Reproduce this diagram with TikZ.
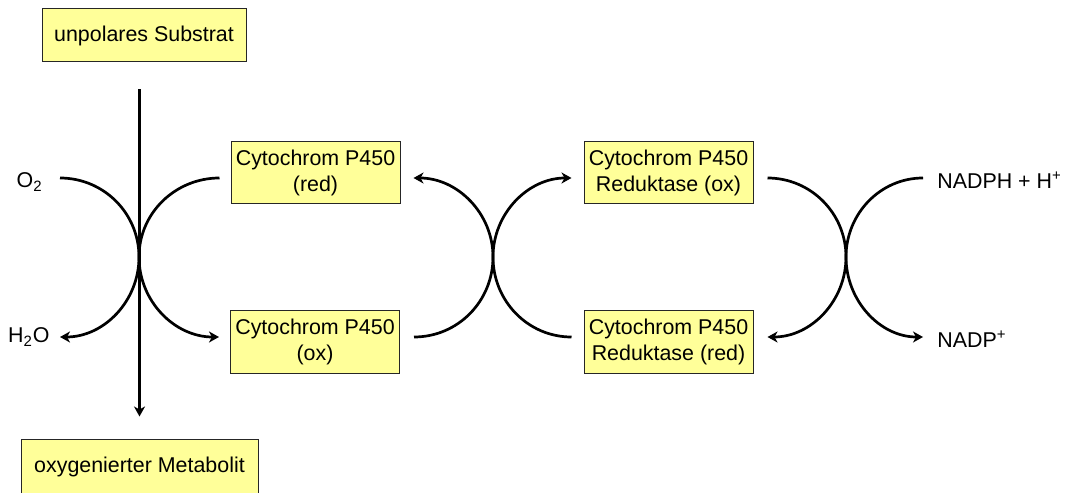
\documentclass[tikz,border=0pt]{standalone}
\usepackage{fontspec}
\setmainfont{Liberation Sans}
\usetikzlibrary{arrows.meta,positioning}
\definecolor{boxyellow}{HTML}{FFFF99}
\tikzstyle{every node}=[font=\fontsize{10.7}{13}\selectfont]
\tikzstyle{enzyme}=[draw=black!85,fill=boxyellow,line width=0.5pt,align=center,inner sep=0pt,minimum width=84.5pt,minimum height=31pt]
\tikzstyle{stoff}=[draw=black!85,fill=boxyellow,line width=0.5pt,inner sep=0pt,minimum height=26.5pt]
\tikzstyle{stofflabel}=[inner sep=0pt]
\tikzstyle{reac}=[line width=1.35pt,-{Stealth[length=5pt,width=5.5pt,inset=1.5pt]}]

\begin{document}
\begin{tikzpicture}[x=0.5pt,y=0.5pt]
  \useasboundingbox (0,0) rectangle (1068,492);
  \node[stoff,minimum width=102pt] (sub) at (144,456.5) {unpolares Substrat};
  \node[stoff,minimum width=118.5pt,minimum height=28pt] (met) at (139.5,25) {oxygenierter Metabolit};
  \node[enzyme] (cytred) at (315.5,319) {Cytochrom P450\\(red)};
  \node[enzyme] (cytox) at (315,150) {Cytochrom P450\\(ox)};
  \node[enzyme] (redox) at (668.5,319) {Cytochrom P450\\Reduktase (ox)};
  \node[enzyme] (redred) at (668.5,150) {Cytochrom P450\\Reduktase (red)};
  \coordinate (hubA) at (139,235);
  \coordinate (hubB) at (493,235);
  \coordinate (hubC) at (846,235);
  \coordinate (o2in) at (60,314);
  \coordinate (h2oout) at (60,155);
  \coordinate (nadphin) at (923,314);
  \coordinate (nadpout) at (923,155);
  \node[stofflabel,left=8.5pt of o2in,yshift=-2pt] (o2) {O\textsubscript{2}};
  \node[stofflabel,left=5pt of h2oout] (h2o) {H\textsubscript{2}O};
  \node[stofflabel,right=7pt of nadphin,yshift=-1pt] (nadph) {NADPH + H\textsuperscript{+}};
  \node[stofflabel,right=7pt of nadpout,yshift=-1pt] (nadp) {NADP\textsuperscript{+}};
  \draw[reac,shorten <=13.5pt,shorten >=11pt] (sub.south -| met.north) -- (met.north);
  \draw[reac] (o2in) to[out=0,in=90] (hubA) to[out=-90,in=0] (h2oout);
  \draw[reac] ([shift={(-11,-5)}]cytred.west) to[out=180,in=90] (hubA) to[out=-90,in=180] ([shift={(-11,5)}]cytox.west);
  \draw[reac] ([shift={(14,5)}]cytox.east) to[out=0,in=-90] (hubB) to[out=90,in=0] ([shift={(13,-5)}]cytred.east);
  \draw[reac] ([shift={(-12,5)}]redred.west) to[out=180,in=-90] (hubB) to[out=90,in=180] ([shift={(-12,-5)}]redox.west);
  \draw[reac] ([shift={(14,-5)}]redox.east) to[out=0,in=90] (hubC) to[out=-90,in=0] ([shift={(14,5)}]redred.east);
  \draw[reac] (nadphin) to[out=180,in=90] (hubC) to[out=-90,in=180] (nadpout);
\end{tikzpicture}
\end{document}
